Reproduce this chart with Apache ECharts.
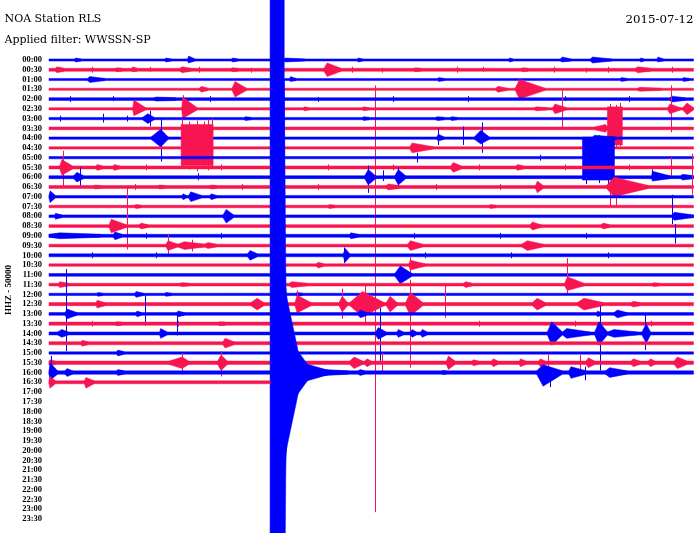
<!DOCTYPE html>
<html>
<head>
<meta charset="utf-8">
<script src="https://cdn.jsdelivr.net/npm/echarts@6/dist/echarts.min.js"></script>
<style>
    html, body { margin: 0; background: #fff; }
    #chart { width: 700px; height: 533px; }
</style>
</head>
<body>
<div id="chart"></div>
<script>
// helicorder rows, 30 minutes each
var rowLabels = ['00:00','00:30','01:00','01:30','02:00','02:30','03:00','03:30','04:00','04:30',
    '05:00','05:30','06:00','06:30','07:00','07:30','08:00','08:30','09:00','09:30',
    '10:00','10:30','11:00','11:30','12:00','12:30','13:00','13:30','14:00','14:30',
    '15:00','15:30','16:00','16:30','17:00','17:30','18:00','18:30','19:00','19:30',
    '20:00','20:30','21:00','21:30','22:00','22:30','23:00','23:30'];
var blue = '#0000ff', red = '#f81450';

// background noise half-amplitude of each recorded row
var rowNoise = [1.1, 1.5, 1.1, 1.1, 1.4, 1.2, 1.2, 1.4, 1.2, 1.2,
    1.2, 1.5, 1.5, 1.5, 1.3, 1.3, 1.4, 1.4, 1.5, 1.4,
    1.5, 1.3, 1.4, 1.4, 1.2, 1.6, 1.4, 1.6, 1.5, 1.6,
    1.2, 1.7, 1.7, 1.5];
var lastRowEnd = 10.3; // minutes recorded in the last row

// [row, start, peak, end (minutes), up, down]
var bursts = [
    [0, 1.2, 1.25, 1.5, 2, 2], [0, 5.4, 5.45, 5.7, 2, 2], [0, 6.45, 6.5, 6.8, 4, 3], [0, 8.5, 8.55, 8.8, 2, 2],
    [0, 10.95, 11.0, 11.9, 2, 2], [0, 14.35, 14.4, 14.6, 2, 2], [0, 21.4, 21.45, 21.6, 2, 2],
    [0, 23.8, 23.9, 24.3, 3, 2], [0, 25.2, 25.3, 26.2, 3, 3], [0, 27.5, 27.55, 27.7, 2, 2], [0, 28.3, 28.35, 28.6, 3, 2],
    [1, 0.3, 0.37, 0.7, 3, 3], [1, 3.1, 3.17, 3.4, 2, 2], [1, 3.85, 3.9, 4.1, 3, 2], [1, 6.1, 6.2, 6.6, 3, 3],
    [1, 8.5, 8.55, 8.8, 2, 2], [1, 12.8, 12.95, 13.6, 7, 7], [1, 17.0, 17.05, 17.3, 2, 2], [1, 22.0, 22.05, 22.3, 2, 2],
    [1, 27.3, 27.4, 28.0, 3, 3],
    [2, 1.8, 1.9, 2.6, 3, 3], [2, 11.2, 11.25, 11.5, 3, 2], [2, 18.1, 18.15, 18.4, 2, 2], [2, 26.6, 26.65, 26.9, 2, 2],
    [2, 29.5, 29.55, 29.8, 2, 2],
    [3, 7.0, 7.1, 7.4, 3, 3], [3, 8.52, 8.66, 9.2, 8, 8], [3, 20.8, 20.9, 21.35, 3, 3], [3, 21.7, 21.9, 23.1, 10, 10],
    [3, 27.4, 27.5, 28.5, 2, 2],
    [4, 4.9, 5.0, 5.9, 2, 2], [4, 28.9, 29.0, 29.6, 3, 3],
    [5, 3.9, 3.95, 4.5, 9, 7], [5, 6.18, 6.22, 6.9, 12, 10], [5, 11.85, 11.9, 12.1, 2, 2], [5, 14.6, 14.65, 14.9, 2, 2],
    [5, 22.6, 22.7, 23.2, 2, 2], [5, 23.45, 23.55, 24.1, 5, 5], [5, 28.8, 28.9, 29.4, 5, 5], [5, 29.5, 29.7, 30, 6, 6],
    [6, 4.35, 4.6, 4.9, 5, 5], [6, 9.1, 9.15, 9.4, 2, 2], [6, 14.6, 14.65, 14.9, 2, 2], [6, 18.0, 18.1, 18.4, 2, 2],
    [6, 18.7, 18.75, 19.0, 2, 2],
    [7, 25.4, 25.9, 26.0, 4, 4],
    [8, 4.75, 5.2, 5.55, 9, 9], [8, 18.05, 18.12, 18.4, 4, 3], [8, 19.8, 20.1, 20.5, 8, 6], [8, 25.3, 25.4, 26.4, 3, 3],
    [9, 16.8, 16.9, 17.9, 5, 5],
    [11, 0.5, 0.6, 1.1, 8, 8], [11, 2.2, 2.24, 2.5, 3, 3], [11, 3.0, 3.03, 3.3, 3, 3], [11, 18.7, 18.82, 19.2, 5, 5],
    [11, 21.75, 21.8, 22.1, 3, 3],
    [12, 1.15, 1.3, 1.6, 5, 5], [12, 14.7, 14.86, 15.2, 8, 8], [12, 16.1, 16.26, 16.6, 8, 8], [12, 28.05, 28.09, 28.9, 6, 4],
    [12, 29.4, 29.5, 30, 3, 3],
    [13, 2.1, 2.15, 2.4, 2, 2], [13, 5.1, 5.15, 5.4, 2, 2], [13, 7.5, 7.55, 7.8, 2, 2], [13, 15.7, 15.8, 16.3, 3, 3],
    [13, 22.65, 22.73, 23.0, 6, 6], [13, 25.95, 26.3, 27.9, 10, 10],
    [14, 0, 0.05, 0.3, 6, 6], [14, 6.2, 6.24, 6.4, 3, 3], [14, 6.5, 6.6, 7.1, 5, 5], [14, 7.5, 7.55, 7.8, 3, 3],
    [15, 4.0, 4.05, 4.3, 2, 2], [15, 13.0, 13.05, 13.3, 2, 2], [15, 20.5, 20.55, 20.8, 2, 2],
    [16, 0.28, 0.3, 0.6, 3, 3], [16, 8.1, 8.25, 8.6, 7, 7], [16, 29.0, 29.1, 30, 4, 4],
    [17, 2.8, 2.9, 3.6, 7, 7], [17, 4.2, 4.3, 4.6, 3, 3], [17, 22.4, 22.5, 22.9, 4, 4], [17, 25.7, 25.8, 26.1, 3, 3],
    [18, 0, 0.5, 2.4, 3, 3], [18, 3.0, 3.07, 3.4, 4, 4], [18, 14.0, 14.05, 14.4, 3, 3],
    [19, 5.45, 5.54, 6.0, 5, 5], [19, 6.0, 6.3, 7.3, 4, 4], [19, 7.25, 7.4, 7.8, 3, 3], [19, 16.7, 16.82, 17.4, 5, 5],
    [19, 22.0, 22.27, 23.0, 5, 5],
    [20, 9.25, 9.36, 9.7, 5, 5], [20, 13.7, 13.79, 14.0, 7, 7],
    [21, 12.45, 12.53, 12.8, 3, 3], [21, 16.75, 16.82, 17.5, 5, 5],
    [22, 16.1, 16.35, 16.9, 9, 9],
    [23, 0.45, 0.5, 0.9, 3, 3], [23, 6.1, 6.2, 6.5, 2, 2], [23, 11.2, 11.3, 12.0, 3, 3], [23, 19.3, 19.4, 19.7, 3, 3],
    [23, 24.0, 24.13, 24.9, 8, 6], [23, 28.1, 28.14, 28.4, 2, 2],
    [24, 2.25, 2.28, 2.5, 2, 2], [24, 4.0, 4.05, 4.4, 3, 3], [24, 5.4, 5.45, 5.7, 2, 2], [24, 11.5, 11.55, 11.8, 2, 2],
    [25, 2.2, 2.24, 2.6, 4, 4], [25, 9.4, 9.69, 10.0, 6, 6], [25, 11.45, 11.55, 12.2, 9, 9], [25, 13.5, 13.65, 13.9, 8, 8],
    [25, 14.0, 14.6, 15.6, 13, 13], [25, 15.7, 15.88, 16.2, 8, 8], [25, 16.6, 16.82, 17.4, 12, 12],
    [25, 22.5, 22.73, 23.1, 6, 6], [25, 24.6, 24.9, 25.8, 6, 6], [25, 27.1, 27.2, 27.5, 3, 3],
    [26, 0.75, 0.84, 1.3, 5, 5], [26, 4.05, 4.1, 4.3, 3, 3], [26, 5.95, 6.01, 6.3, 3, 3], [26, 14.4, 14.49, 14.8, 4, 4],
    [26, 25.5, 25.53, 25.7, 3, 3], [26, 26.3, 26.46, 26.9, 4, 4],
    [27, 3.1, 3.15, 3.4, 2, 2], [27, 7.9, 7.95, 8.2, 2, 2],
    [28, 0.4, 0.6, 0.9, 4, 4], [28, 5.15, 5.2, 5.5, 5, 5], [28, 15.2, 15.33, 15.7, 6, 6], [28, 16.2, 16.26, 16.5, 4, 4],
    [28, 16.8, 16.91, 17.1, 4, 4], [28, 17.3, 17.38, 17.6, 4, 4], [28, 23.2, 23.4, 23.9, 12, 12], [28, 23.9, 24.1, 25.2, 5, 5],
    [28, 25.4, 25.6, 26.0, 12, 12], [28, 26.0, 26.3, 27.4, 4, 4], [28, 27.6, 27.8, 28.0, 10, 10],
    [29, 1.5, 1.54, 1.8, 3, 3], [29, 8.1, 8.2, 8.6, 5, 5],
    [30, 3.15, 3.21, 3.5, 3, 3],
    [31, 0, 0.05, 0.3, 3, 3], [31, 5.6, 6.2, 6.5, 6, 6], [31, 7.85, 8.01, 8.3, 8, 8], [31, 14.0, 14.2, 14.6, 6, 6],
    [31, 14.7, 14.8, 15.0, 4, 4], [31, 18.5, 18.59, 18.9, 7, 7], [31, 19.7, 19.75, 20.0, 3, 3], [31, 20.6, 20.68, 20.9, 4, 4],
    [31, 21.9, 21.94, 22.2, 4, 4], [31, 22.8, 22.87, 23.1, 4, 4], [31, 25.0, 25.11, 25.4, 5, 5], [31, 27.1, 27.2, 27.5, 4, 4],
    [31, 27.9, 28.0, 28.2, 4, 4], [31, 29.1, 29.25, 29.7, 6, 6],
    [32, 0, 0.05, 0.4, 10, 8], [32, 0.75, 0.84, 1.1, 4, 4], [32, 3.15, 3.21, 3.5, 3, 3],
    [32, 10.9, 10.95, 11.06, 300, 300], [32, 10.9, 10.95, 11.32, 110, 110], [32, 10.9, 10.99, 11.79, 85, 85],
    [32, 10.9, 10.99, 12.25, 40, 40], [32, 10.9, 11.13, 13.09, 14, 14], [32, 10.9, 11.23, 13.93, 5, 5],
    [32, 14.4, 14.49, 14.7, 3, 3], [32, 18.3, 18.31, 18.5, 2, 2], [32, 22.7, 23.0, 23.9, 8, 14], [32, 24.2, 24.3, 25.0, 6, 6],
    [32, 25.9, 26.1, 26.9, 5, 5],
    [33, 0, 0.05, 0.3, 6, 6], [33, 1.65, 1.72, 2.1, 5, 6]
];

// saturated stretches: [row, start, end, up, down]
var blocks = [
    [7, 25.99, 26.69, 22, 17],
    [9, 6.15, 7.64, 24, 18],
    [10, 24.83, 26.32, 21, 23],
    [32, 10.29, 10.95, 700, 700]
];

// single glitches and small ticks: [row, minute, up, down]
var spikes = [
    [1, 2.0, 3, 3], [1, 4.7, 3, 2], [1, 7.0, 3, 3], [1, 9.4, 2, 3], [1, 14.1, 3, 3], [1, 15.5, 2, 3],
    [1, 19.0, 3, 3], [1, 20.2, 3, 2], [1, 23.5, 3, 3], [1, 25.0, 2, 3], [1, 26.0, 3, 3], [1, 29.0, 3, 3],
    [3, 15.19, 4, 433],
    [4, 1.0, 3, 3], [4, 3.0, 3, 2], [4, 7.5, 3, 3], [4, 12.5, 2, 3], [4, 16.0, 3, 3], [4, 19.5, 3, 3],
    [4, 24.0, 3, 2], [4, 27.0, 3, 3],
    [5, 6.22, 14, 11], [5, 23.9, 19, 19], [5, 28.93, 24, 24],
    [6, 0.5, 3, 3], [6, 2.52, 5, 4], [6, 3.63, 3, 3], [6, 4.7, 8, 8],
    [7, 26.1, 25, 20], [7, 26.4, 24, 19], [7, 26.6, 26, 18],
    [8, 5.22, 20, 24], [8, 18.12, 10, 7], [8, 19.29, 12, 7], [8, 20.17, 16, 15],
    [9, 6.2, 30, 21], [9, 6.5, 27, 22], [9, 6.9, 28, 24], [9, 7.2, 27, 21], [9, 7.4, 29, 23], [9, 7.6, 30, 20],
    [10, 10.9, 10, 13], [10, 17.14, 5, 5], [10, 22.87, 3, 3],
    [10, 25.0, 20, 27], [10, 25.6, 23, 26], [10, 26.0, 21, 28],
    [11, 0.65, 17, 20], [11, 4.5, 3, 3], [11, 8.0, 3, 3], [11, 13.0, 3, 3], [11, 16.0, 3, 3], [11, 20.0, 3, 3],
    [11, 24.0, 3, 3], [11, 27.0, 3, 3], [11, 28.93, 10, 10], [11, 29.95, 14, 14],
    [12, 1.44, 10, 10], [12, 6.94, 4, 3], [12, 14.86, 12, 16], [12, 15.56, 7, 4], [12, 16.26, 10, 12], [12, 28.09, 8, 3],
    [13, 4.0, 3, 3], [13, 9.0, 3, 3], [13, 12.5, 3, 3], [13, 18.0, 3, 3], [13, 21.0, 3, 3],
    [13, 26.1, 4, 20], [13, 26.37, 10, 20], [13, 29.95, 13, 8],
    [16, 29.02, 22, 8],
    [17, 3.63, 39, 24],
    [18, 4.5, 3, 3], [18, 8.0, 3, 3], [18, 17.0, 3, 3], [18, 21.0, 3, 3], [18, 25.0, 3, 3], [18, 29.16, 12, 8],
    [19, 5.54, 12, 10], [19, 6.66, 6, 6],
    [20, 2.0, 3, 3], [20, 5.0, 3, 3], [20, 13.74, 8, 8], [20, 17.5, 3, 3], [20, 21.5, 3, 3], [20, 26.0, 3, 3],
    [21, 16.82, 8, 10],
    [22, 0.79, 5, 2],
    [23, 24.13, 27, 10],
    [25, 11.55, 14, 11], [25, 13.65, 16, 15], [25, 14.72, 20, 20], [25, 16.82, 25, 65], [25, 18.45, 21, 14],
    [26, 0.79, 46, 38], [26, 4.47, 20, 12],
    [27, 2.0, 3, 3], [27, 6.0, 3, 3], [27, 20.0, 3, 3], [27, 24.5, 3, 3], [27, 28.0, 3, 3],
    [28, 5.96, 20, 2], [28, 15.42, 26, 17], [28, 25.67, 28, 38], [28, 27.76, 20, 17],
    [30, 15.42, 8, 8],
    [31, 6.2, 10, 12], [31, 8.01, 12, 14], [31, 15.51, 10, 10], [31, 23.25, 8, 8], [31, 24.74, 8, 8],
    [32, 0.1, 17, 8], [32, 23.34, 4, 15], [32, 24.97, 6, 8]
];

var myChart = echarts.init(document.getElementById('chart'));

function renderRow(params, api) {
    var r = api.value(0);
    var base = r * 10;
    var color = r % 2 ? red : blue;
    var end = r === rowNoise.length - 1 ? lastRowEnd : 30;
    var kids = [];
    function poly(pts) {
        kids.push({
            type: 'polygon',
            shape: { points: pts.map(function (p) { return api.coord(p); }) },
            style: { fill: color, stroke: color, lineWidth: 0.5 }
        });
    }
    var n = rowNoise[r];
    poly([[0, base - n], [end, base - n], [end, base + n], [0, base + n]]);
    blocks.forEach(function (b) {
        if (b[0] === r) poly([[b[1], base - b[3]], [b[2], base - b[3]], [b[2], base + b[4]], [b[1], base + b[4]]]);
    });
    bursts.forEach(function (b) {
        if (b[0] === r) poly([[b[1], base - n], [b[2], base - b[4]], [b[3], base - n], [b[3], base + n], [b[2], base + b[5]], [b[1], base + n]]);
    });
    spikes.forEach(function (s) {
        if (s[0] !== r) return;
        var p1 = api.coord([s[1], base - s[2]]);
        var p2 = api.coord([s[1], base + s[3]]);
        var x = Math.round(p1[0]) + 0.5;
        kids.push({
            type: 'line',
            shape: { x1: x, y1: p1[1], x2: x, y2: p2[1] },
            style: { stroke: color, lineWidth: 1 }
        });
    });
    return { type: 'group', children: kids };
}

myChart.setOption({
    backgroundColor: '#fff',
    animation: false,
    grid: { left: 49, right: 6.5, top: 50.23, bottom: 4.23 },
    xAxis: { type: 'value', min: 0, max: 30, show: false },
    yAxis: {
        type: 'value',
        inverse: true,
        min: -10,
        max: 480,
        interval: 10,
        axisLine: { show: false },
        axisTick: { show: false },
        splitLine: { show: false },
        axisLabel: {
            margin: 7,
            color: '#000',
            fontFamily: 'Liberation Serif',
            fontWeight: 'bold',
            fontSize: 8.5,
            formatter: function (v) {
                var i = Math.round(v / 10);
                return rowLabels[i] || '';
            }
        }
    },
    graphic: [
        { type: 'text', left: 4.5, top: 14, style: { text: 'NOA Station RLS', fill: '#000', font: '11px "DejaVu Serif"' } },
        { type: 'text', left: 4.5, top: 35, style: { text: 'Applied filter: WWSSN-SP', fill: '#000', font: '11px "DejaVu Serif"' } },
        { type: 'text', right: 6.5, top: 14, style: { text: '2015-07-12', fill: '#000', font: '11.8px "DejaVu Serif"' } },
        {
            type: 'text', x: 8.5, y: 290, rotation: Math.PI / 2,
            style: { text: 'HHZ - 50000', fill: '#000', font: 'bold 9px "Liberation Serif"', align: 'center', verticalAlign: 'middle' }
        }
    ],
    series: [{
        type: 'custom',
        clip: false,
        renderItem: renderRow,
        data: rowNoise.map(function (n, i) { return [i]; })
    }]
});
</script>
</body>
</html>
